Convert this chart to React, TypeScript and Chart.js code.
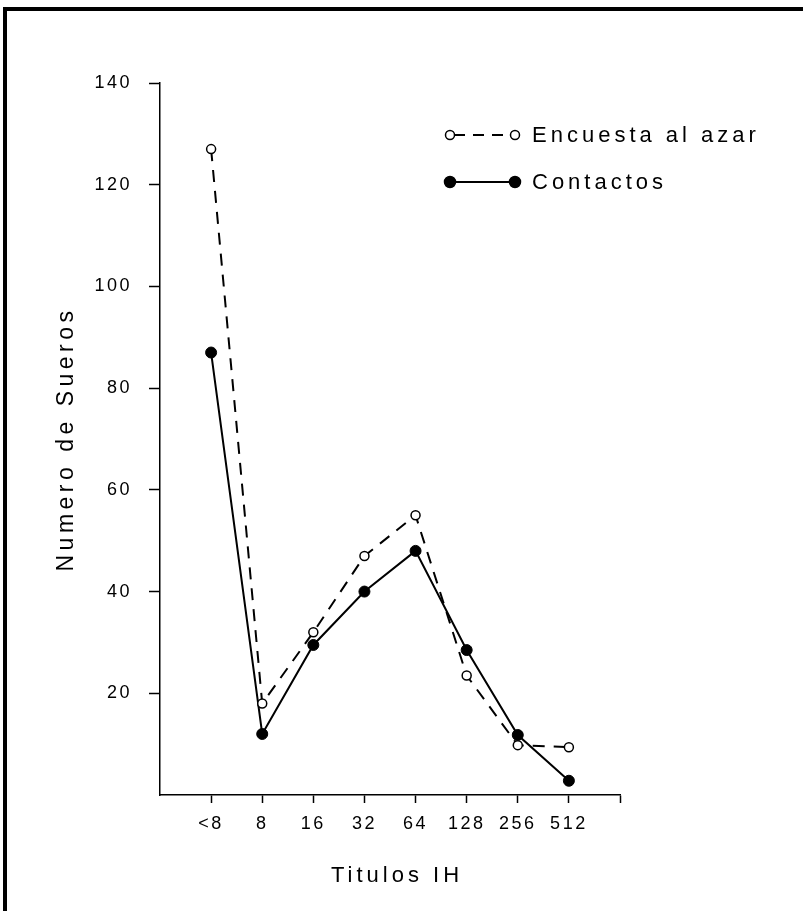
import React, { useEffect, useRef } from "react";
import { Chart, registerables } from "chart.js";

Chart.register(...registerables);

const categories = ["<8", "8", "16", "32", "64", "128", "256", "512"];
const encuestaValues = [127, 18, 32, 47, 55, 23.5, 9.8, 9.4];
const contactosValues = [87, 12, 29.5, 40, 48, 28.5, 11.8, 2.8];
const yTickValues = [20, 40, 60, 80, 100, 120, 140];

const seriesNames = ["Encuesta al azar", "Contactos"];
const xTitle = "Titulos IH";
const yTitle = "Numero de Sueros";

const FONT = "'Liberation Sans', Arial, sans-serif";

const overlayPlugin = {
  id: "overlayText",
  beforeDraw(chart: any) {
    chart.ctx.letterSpacing = "2.5px";
  },
  afterDraw(chart: any) {
    const ctx = chart.ctx;
    const area = chart.chartArea;
    ctx.save();
    ctx.fillStyle = "#000";
    ctx.strokeStyle = "#000";

    // X title
    ctx.font = `22px ${FONT}`;
    ctx.letterSpacing = "4px";
    ctx.textAlign = "center";
    ctx.textBaseline = "middle";
    ctx.fillText(xTitle, 397, 876);

    // Y title
    ctx.save();
    ctx.translate(67, (area.top + area.bottom) / 2);
    ctx.rotate(-Math.PI / 2);
    ctx.font = `23px ${FONT}`;
    ctx.letterSpacing = "4.5px";
    ctx.textAlign = "center";
    ctx.textBaseline = "middle";
    ctx.fillText(yTitle, 0, 0);
    ctx.restore();

    // Legend
    const rows = [
      { y: 135, dashed: true, filled: false },
      { y: 182, dashed: false, filled: true },
    ];
    rows.forEach((r, i) => {
      const x1 = 450;
      const x2 = 515;
      ctx.save();
      ctx.lineWidth = 2;
      ctx.setLineDash(r.dashed ? [11, 8] : []);
      ctx.beginPath();
      ctx.moveTo(x1 + 4, r.y);
      ctx.lineTo(x2 - 4, r.y);
      ctx.stroke();
      ctx.restore();
      [x1, x2].forEach((cx) => {
        ctx.beginPath();
        ctx.arc(cx, r.y, r.filled ? 5.5 : 4.5, 0, Math.PI * 2);
        ctx.fillStyle = r.filled ? "#000" : "#fff";
        ctx.fill();
        ctx.lineWidth = 1.5;
        ctx.strokeStyle = "#000";
        ctx.stroke();
      });
      ctx.fillStyle = "#000";
      ctx.font = `22px ${FONT}`;
      ctx.letterSpacing = "4px";
      ctx.textAlign = "left";
      ctx.textBaseline = "middle";
      ctx.fillText(seriesNames[i], 532, r.y + 1);
    });
    ctx.restore();
  },
};

export default function App() {
  const canvasRef = useRef<HTMLCanvasElement | null>(null);

  useEffect(() => {
    if (!canvasRef.current) return;
    const toPoints = (vals: number[]) =>
      vals.map((v, i) => ({ x: i + 1, y: v }));

    const chart = new Chart(canvasRef.current, {
      type: "line",
      data: {
        datasets: [
          {
            label: seriesNames[0],
            data: toPoints(encuestaValues),
            borderColor: "#000",
            borderWidth: 2,
            borderDash: [12, 9],
            pointRadius: 4.5,
            pointBackgroundColor: "#fff",
            pointBorderColor: "#000",
            pointBorderWidth: 1.5,
            tension: 0,
            fill: false,
          },
          {
            label: seriesNames[1],
            data: toPoints(contactosValues),
            borderColor: "#000",
            borderWidth: 2,
            pointRadius: 5.5,
            pointBackgroundColor: "#000",
            pointBorderColor: "#000",
            pointBorderWidth: 1,
            tension: 0,
            fill: false,
          },
        ],
      },
      options: {
        animation: false,
        responsive: false,
        devicePixelRatio: 1,
        layout: { padding: { left: 0, top: 83, right: 183, bottom: 0 } },
        plugins: {
          legend: { display: false },
          tooltip: { enabled: false },
          title: { display: false },
        },
        scales: {
          x: {
            type: "linear",
            min: 0,
            max: categories.length + 1,
            afterFit: (s: any) => {
              s.height = 116;
            },
            afterBuildTicks: (s: any) => {
              s.ticks = Array.from({ length: categories.length + 1 }, (_, i) => ({
                value: i + 1,
              }));
            },
            ticks: {
              autoSkip: false,
              maxRotation: 0,
              color: "#000",
              padding: 10,
              font: { family: FONT, size: 18 },
              callback: (v: any) => categories[Number(v) - 1] ?? "",
            },
            grid: {
              display: true,
              drawOnChartArea: false,
              drawTicks: true,
              tickLength: 8,
              tickColor: "#000",
              tickWidth: 1.5,
            },
            border: { display: true, color: "#000", width: 1.5 },
          },
          y: {
            type: "linear",
            min: 0,
            max: 140,
            afterFit: (s: any) => {
              s.width = 160;
            },
            afterBuildTicks: (s: any) => {
              s.ticks = yTickValues.map((v) => ({ value: v }));
            },
            ticks: {
              color: "#000",
              padding: 17,
              font: { family: FONT, size: 18 },
              callback: (v: any) => String(v),
            },
            grid: {
              display: true,
              drawOnChartArea: false,
              drawTicks: true,
              tickLength: 11,
              tickColor: "#000",
              tickWidth: 1.5,
            },
            border: { display: true, color: "#000", width: 1.5 },
          },
        },
      },
      plugins: [overlayPlugin],
    });
    return () => chart.destroy();
  }, []);

  return (
    <div
      style={{
        position: "absolute",
        left: 0,
        top: 0,
        width: 803,
        height: 911,
        background: "#fff",
        overflow: "hidden",
      }}
    >
      <div
        style={{
          position: "absolute",
          left: 3,
          top: 7,
          width: 810,
          height: 900,
          borderLeft: "4px solid #000",
          borderTop: "4px solid #000",
          borderBottom: "2px solid #cfcfcf",
        }}
      />
      <canvas
        ref={canvasRef}
        width={803}
        height={911}
        style={{ position: "absolute", left: 0, top: 0, width: 803, height: 911 }}
      />
    </div>
  );
}
